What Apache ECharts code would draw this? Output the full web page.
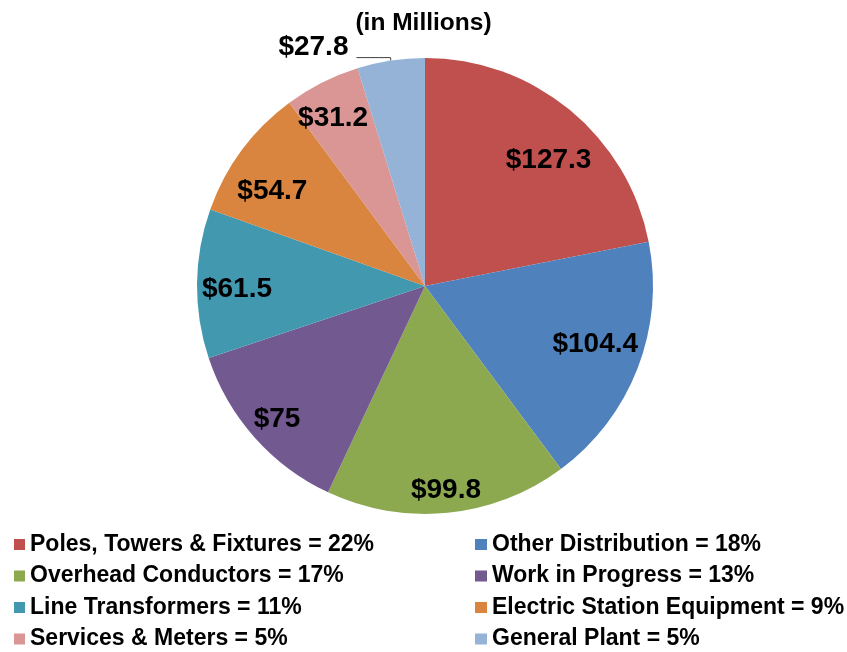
<!DOCTYPE html>
<html>
<head>
<meta charset="utf-8">
<script src="https://cdn.jsdelivr.net/npm/echarts@6/dist/echarts.min.js"></script>
<style>
  html, body { margin: 0; padding: 0; background: #fff; }
</style>
</head>
<body>
<div id="main" style="width: 847px;height:652px;"></div>
<script type="text/javascript">
    // categories, values (millions $) and the legend percentages
    var names = ['Poles, Towers & Fixtures', 'Other Distribution', 'Overhead Conductors', 'Work in Progress',
        'Line Transformers', 'Electric Station Equipment', 'Services & Meters', 'General Plant'];
    var values = [127.3, 104.4, 99.8, 75, 61.5, 54.7, 31.2, 27.8];
    var percents = [22, 18, 17, 13, 11, 9, 5, 5];
    var colors = ['#C0504D', '#4F81BD', '#8CA94F', '#725990', '#4198AF', '#D9843F', '#D99694', '#95B3D7'];

    var font = '"Liberation Sans", Arial, sans-serif';
    // small nudges so the labels sit where Excel's "best fit" put them
    var labelNudge = [[3, 21], [-7, -10], [2, 15], [-6, 7], [2, 5], [0, 18], [-6, 2], [0, 0]];

    var myChart = echarts.init(document.getElementById('main'));

    // visible pie: only the small last slice gets an outside label with a leader line
    var pieData = names.map(function (n, i) {
        var d = { name: n, value: values[i], itemStyle: { color: colors[i] } };
        if (i === names.length - 1) {
            d.label = {
                show: true, position: 'outside', alignTo: 'none',
                formatter: function (p) { return '$' + p.value + '\n '; },
                lineHeight: 21,
                distanceToLabelLine: 8
            };
            d.labelLine = { show: true, length: 3, length2: 34, lineStyle: { color: '#404040', width: 1 } };
        }
        return d;
    });

    // transparent twin pie, used only to put the inside labels further out
    var labelData = names.map(function (n, i) {
        var d = { name: n, value: values[i], itemStyle: { color: 'rgba(0,0,0,0)' },
            label: { offset: labelNudge[i] } };
        if (i === names.length - 1) d.label.show = false;
        return d;
    });

    function legendFmt(name) {
        return name + ' = ' + percents[names.indexOf(name)] + '%';
    }

    var legendText = { fontFamily: font, fontWeight: 'bold', fontSize: 23, color: '#000', lineHeight: 22 };

    var option = {
        animation: false,
        title: {
            text: '(in Millions)',
            left: 'center',
            top: 6,
            textStyle: { fontFamily: font, fontWeight: 'bold', fontSize: 24.5, color: '#000' }
        },
        legend: [{
            orient: 'vertical',
            left: 14,
            top: 533,
            padding: 0,
            itemWidth: 11,
            itemHeight: 11,
            itemGap: 8.5,
            icon: 'rect',
            selectedMode: false,
            data: names.filter(function (n, i) { return i % 2 === 0; }),
            formatter: legendFmt,
            textStyle: legendText
        }, {
            orient: 'vertical',
            left: 475,
            top: 533,
            padding: 0,
            itemWidth: 12,
            itemHeight: 11,
            itemGap: 8.5,
            icon: 'rect',
            selectedMode: false,
            data: names.filter(function (n, i) { return i % 2 === 1; }),
            formatter: legendFmt,
            textStyle: legendText
        }],
        series: [{
            type: 'pie',
            center: [425, 286],
            radius: [0, 228],
            startAngle: 90,
            clockwise: true,
            avoidLabelOverlap: false,
            label: {
                show: false,
                formatter: function (p) { return '$' + p.value; },
                fontFamily: font, fontWeight: 'bold', fontSize: 28, color: '#000'
            },
            labelLine: { show: false },
            emphasis: { disabled: true },
            data: pieData
        }, {
            type: 'pie',
            center: [425, 286],
            radius: [0, 374],
            startAngle: 90,
            clockwise: true,
            silent: true,
            z: 3,
            label: {
                show: true,
                position: 'inner',
                formatter: function (p) { return '$' + p.value; },
                fontFamily: font, fontWeight: 'bold', fontSize: 28, color: '#000'
            },
            labelLine: { show: false },
            emphasis: { disabled: true },
            data: labelData
        }]
    };
    myChart.setOption(option);
</script>
</body>
</html>
